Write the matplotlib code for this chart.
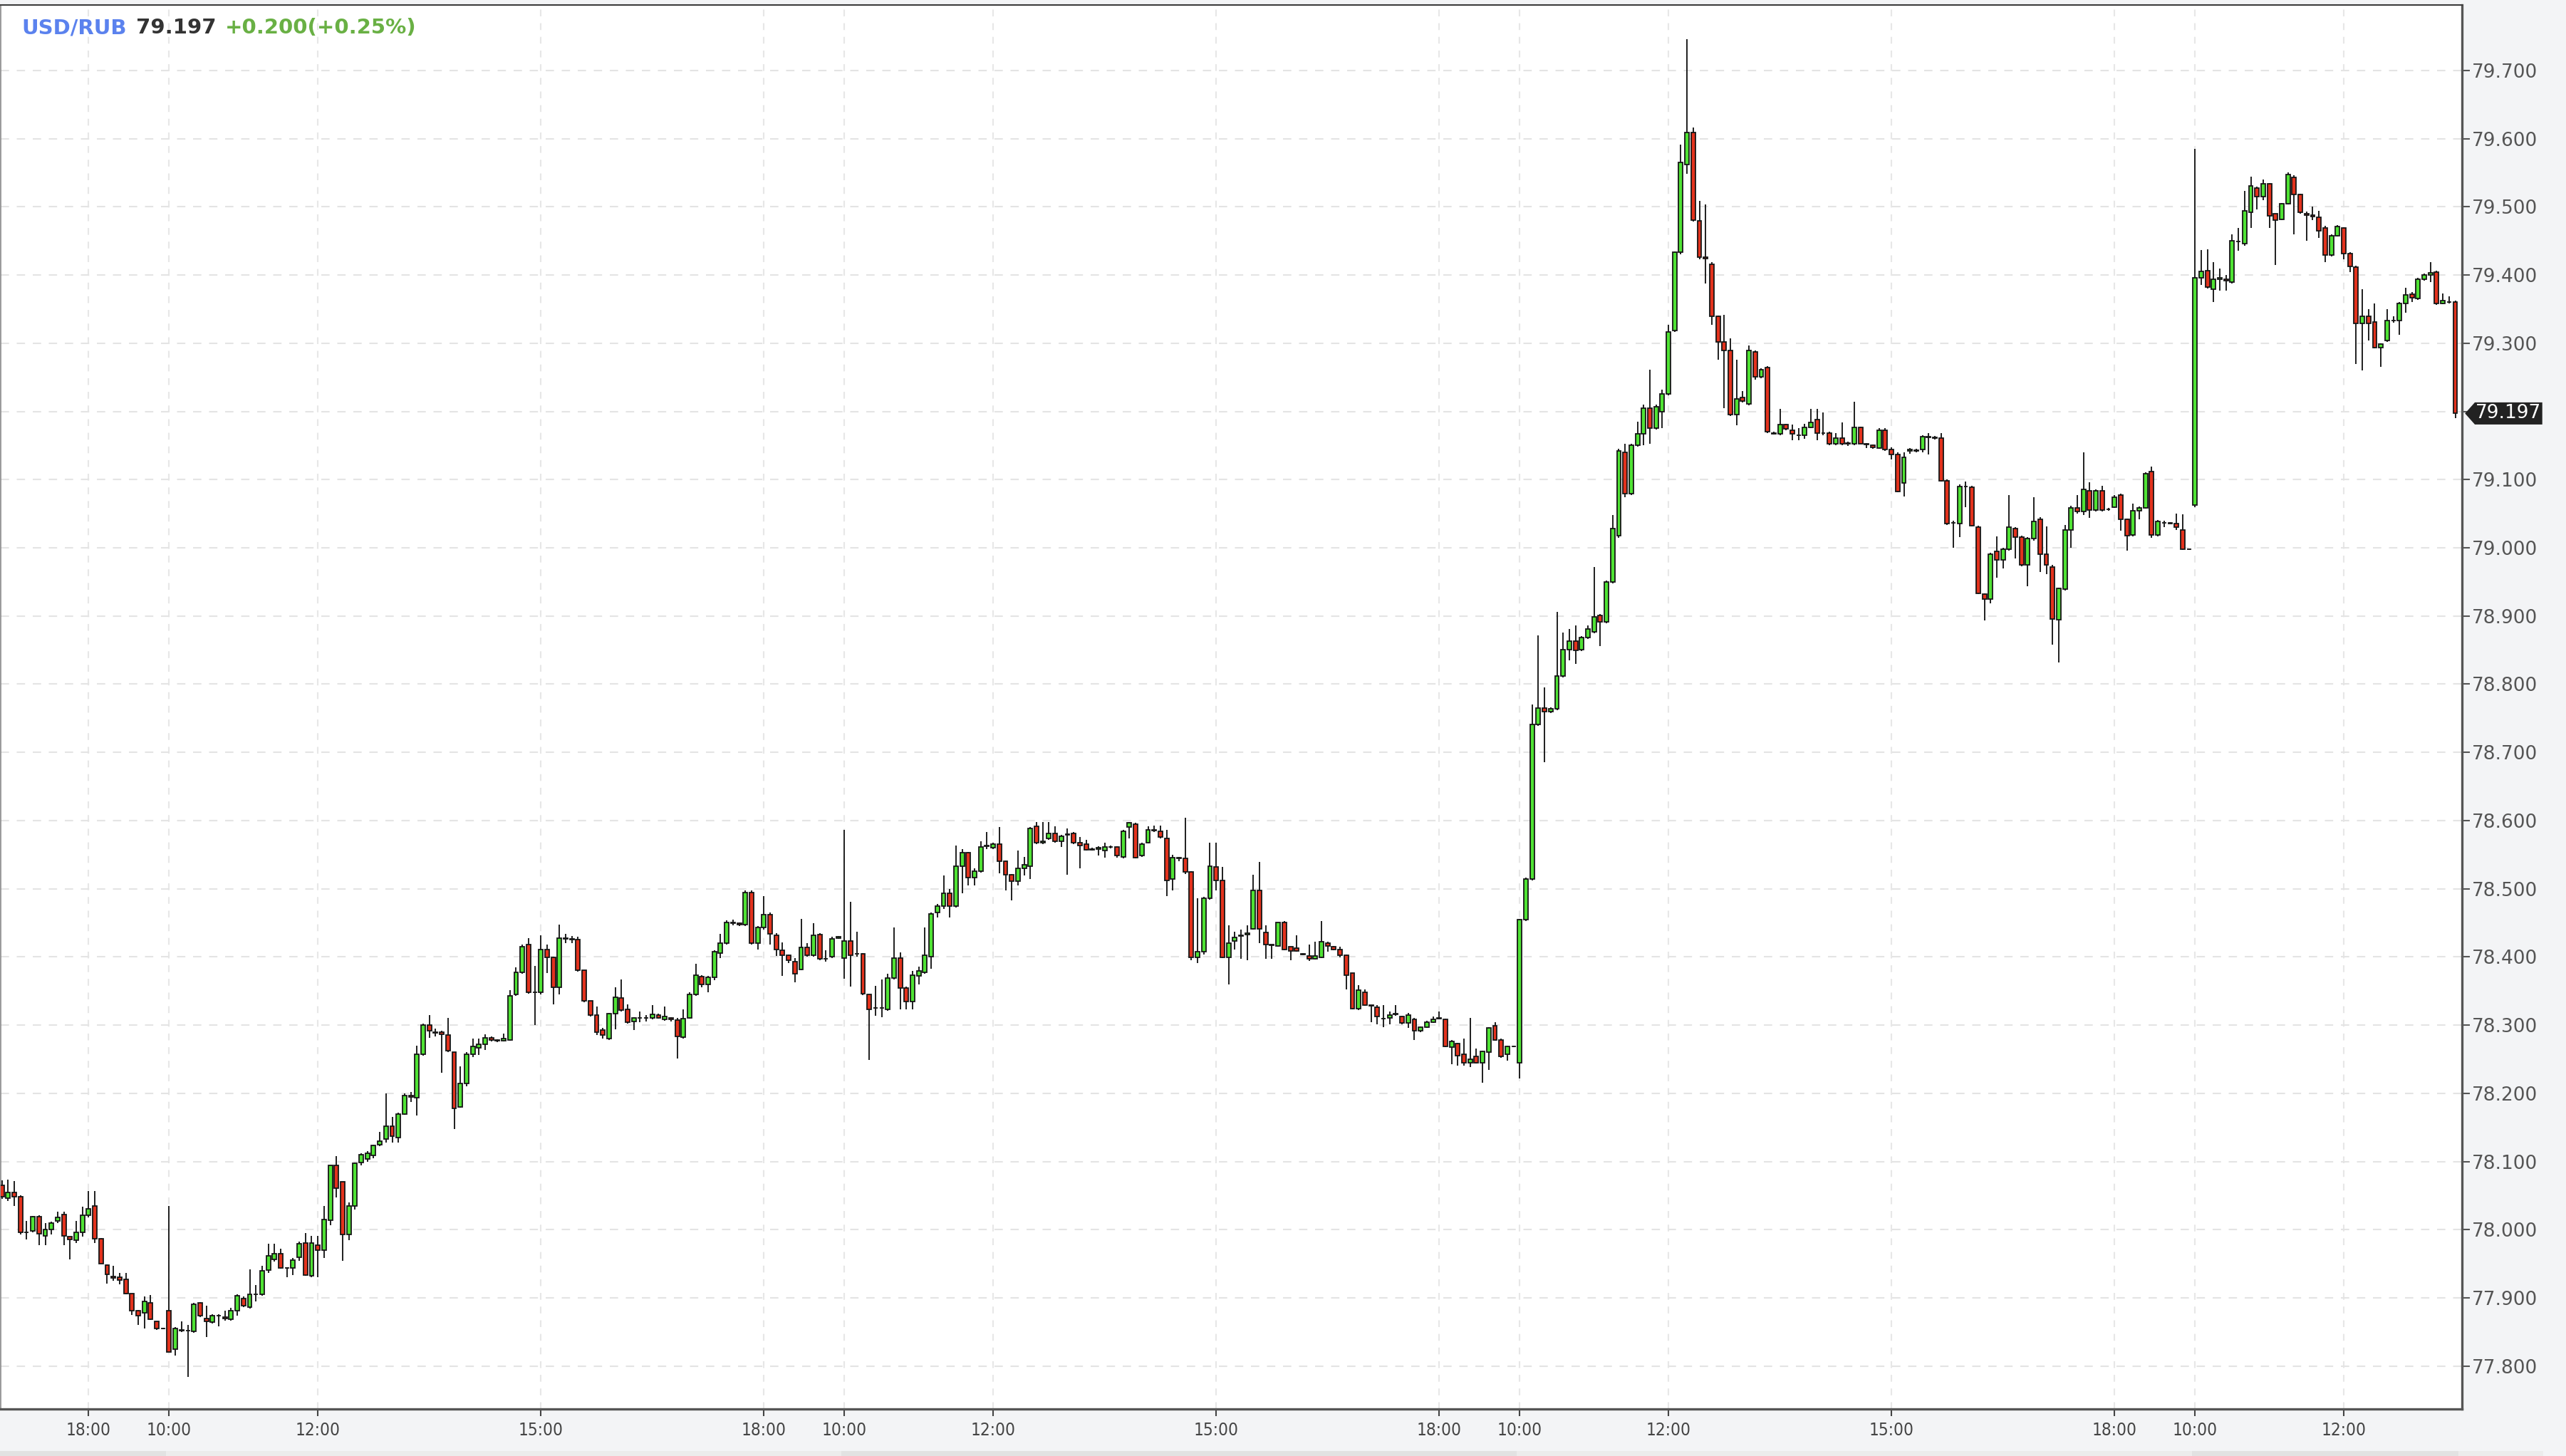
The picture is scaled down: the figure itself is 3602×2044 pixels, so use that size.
import numpy as np
import matplotlib.pyplot as plt
from matplotlib.patches import Polygon, Rectangle
from matplotlib.transforms import blended_transform_factory

# 5-minute USD/RUB candles, rows are (open, high, low, close), one list per session
day1 = [  # 16:50 - 19:00
    (78.065, 78.072, 78.045, 78.048), (78.046, 78.073, 78.042, 78.055), (78.055, 78.071, 78.035, 78.048),
    (78.048, 78.050, 77.993, 77.996), (77.996, 78.013, 77.986, 77.996), (77.998, 78.020, 77.996, 78.019),
    (78.019, 78.021, 77.977, 77.994), (77.991, 78.010, 77.977, 78.000), (78.000, 78.012, 77.993, 78.010),
    (78.013, 78.026, 78.010, 78.018), (78.022, 78.026, 77.977, 77.991), (77.990, 77.990, 77.956, 77.986),
    (77.985, 78.013, 77.980, 77.996), (77.996, 78.034, 77.990, 78.021), (78.021, 78.057, 78.018, 78.031),
    (78.035, 78.057, 77.980, 77.987), (77.987, 77.988, 77.950, 77.950), (77.948, 77.949, 77.921, 77.934),
    (77.931, 77.947, 77.925, 77.929), (77.930, 77.937, 77.920, 77.926), (77.927, 77.937, 77.905, 77.906),
    (77.906, 77.906, 77.875, 77.881), (77.881, 77.882, 77.860, 77.874), (77.878, 77.902, 77.855, 77.895),
    (77.893, 77.904, 77.868, 77.869), (77.866, 77.866, 77.853, 77.855), (77.855, 77.856, 77.854, 77.855),
]

day2 = [  # 10:00 - 19:00
    (77.881, 78.035, 77.821, 77.821), (77.825, 77.857, 77.815, 77.855), (77.853, 77.866, 77.850, 77.852),
    (77.852, 77.860, 77.784, 77.852), (77.851, 77.893, 77.849, 77.891), (77.893, 77.894, 77.872, 77.874),
    (77.870, 77.888, 77.843, 77.866), (77.864, 77.876, 77.862, 77.874), (77.874, 77.876, 77.858, 77.874),
    (77.872, 77.881, 77.867, 77.870), (77.869, 77.885, 77.867, 77.881), (77.881, 77.905, 77.874, 77.903),
    (77.899, 77.902, 77.886, 77.888), (77.886, 77.942, 77.884, 77.905), (77.905, 77.919, 77.895, 77.905),
    (77.905, 77.947, 77.903, 77.940), (77.941, 77.979, 77.937, 77.962), (77.956, 77.979, 77.953, 77.965),
    (77.965, 77.972, 77.943, 77.944), (77.944, 77.945, 77.930, 77.944), (77.944, 77.958, 77.933, 77.955),
    (77.960, 77.982, 77.954, 77.979), (77.980, 77.995, 77.932, 77.933), (77.932, 77.991, 77.930, 77.980),
    (77.977, 77.991, 77.930, 77.970), (77.970, 78.035, 77.958, 78.015), (78.014, 78.094, 78.007, 78.094),
    (78.094, 78.108, 78.047, 78.061), (78.070, 78.070, 77.954, 77.993), (77.993, 78.040, 77.985, 78.035),
    (78.035, 78.098, 78.030, 78.097), (78.098, 78.112, 78.094, 78.110), (78.104, 78.115, 78.100, 78.112),
    (78.109, 78.125, 78.105, 78.123), (78.125, 78.143, 78.122, 78.130), (78.133, 78.200, 78.128, 78.152),
    (78.152, 78.165, 78.128, 78.137), (78.135, 78.172, 78.128, 78.170), (78.170, 78.200, 78.168, 78.197),
    (78.197, 78.202, 78.187, 78.195), (78.193, 78.270, 78.167, 78.257), (78.257, 78.302, 78.255, 78.300),
    (78.300, 78.315, 78.281, 78.292), (78.290, 78.295, 78.283, 78.289), (78.290, 78.292, 78.230, 78.286),
    (78.285, 78.311, 78.260, 78.262), (78.260, 78.260, 78.148, 78.178), (78.180, 78.239, 78.179, 78.214),
    (78.214, 78.260, 78.210, 78.257), (78.257, 78.280, 78.253, 78.269), (78.267, 78.280, 78.256, 78.272),
    (78.272, 78.287, 78.263, 78.281), (78.281, 78.283, 78.276, 78.278), (78.278, 78.279, 78.275, 78.277),
    (78.277, 78.288, 78.276, 78.280), (78.278, 78.351, 78.277, 78.343), (78.345, 78.385, 78.343, 78.377),
    (78.377, 78.418, 78.375, 78.415), (78.418, 78.428, 78.346, 78.348), (78.348, 78.387, 78.300, 78.348),
    (78.348, 78.432, 78.345, 78.411), (78.411, 78.418, 78.376, 78.399), (78.399, 78.400, 78.330, 78.355),
    (78.355, 78.447, 78.345, 78.427), (78.427, 78.434, 78.420, 78.426), (78.426, 78.431, 78.420, 78.425),
    (78.425, 78.430, 78.378, 78.380), (78.380, 78.380, 78.334, 78.336), (78.336, 78.336, 78.313, 78.315),
    (78.315, 78.327, 78.285, 78.290), (78.293, 78.296, 78.280, 78.285), (78.280, 78.318, 78.278, 78.317),
    (78.317, 78.355, 78.294, 78.341), (78.340, 78.367, 78.320, 78.322), (78.323, 78.330, 78.302, 78.304),
    (78.305, 78.312, 78.293, 78.310), (78.310, 78.320, 78.304, 78.310), (78.310, 78.315, 78.305, 78.310),
    (78.310, 78.329, 78.308, 78.316), (78.315, 78.317, 78.309, 78.311), (78.308, 78.327, 78.306, 78.313),
    (78.310, 78.312, 78.305, 78.308), (78.307, 78.310, 78.251, 78.283), (78.282, 78.323, 78.280, 78.309),
    (78.311, 78.348, 78.309, 78.345), (78.345, 78.390, 78.343, 78.373), (78.371, 78.373, 78.355, 78.360),
    (78.360, 78.372, 78.348, 78.370), (78.370, 78.410, 78.366, 78.408), (78.406, 78.434, 78.398, 78.420),
    (78.420, 78.454, 78.418, 78.450), (78.450, 78.455, 78.446, 78.449), (78.449, 78.450, 78.445, 78.447),
    (78.447, 78.497, 78.445, 78.494), (78.494, 78.498, 78.418, 78.420), (78.420, 78.445, 78.411, 78.443),
    (78.443, 78.489, 78.440, 78.462), (78.462, 78.465, 78.418, 78.434), (78.432, 78.435, 78.401, 78.411),
    (78.410, 78.421, 78.372, 78.402), (78.402, 78.403, 78.391, 78.395), (78.393, 78.398, 78.363, 78.375),
    (78.382, 78.456, 78.380, 78.414), (78.414, 78.420, 78.400, 78.402), (78.402, 78.449, 78.400, 78.432),
    (78.433, 78.435, 78.395, 78.397), (78.397, 78.410, 78.393, 78.397), (78.400, 78.430, 78.398, 78.426),
    (78.427, 78.431, 78.426, 78.430),
]

day3 = [  # 10:00 - 19:00
    (78.398, 78.586, 78.368, 78.423), (78.423, 78.481, 78.356, 78.402), (78.405, 78.437, 78.400, 78.405),
    (78.405, 78.406, 78.344, 78.346), (78.345, 78.345, 78.249, 78.323), (78.325, 78.358, 78.314, 78.325),
    (78.325, 78.367, 78.312, 78.325), (78.323, 78.375, 78.321, 78.369), (78.369, 78.443, 78.367, 78.398),
    (78.398, 78.407, 78.323, 78.354), (78.354, 78.356, 78.323, 78.335), (78.335, 78.379, 78.323, 78.373),
    (78.372, 78.386, 78.360, 78.379), (78.377, 78.443, 78.375, 78.402), (78.400, 78.465, 78.383, 78.463),
    (78.465, 78.478, 78.458, 78.475), (78.474, 78.519, 78.470, 78.493), (78.493, 78.500, 78.458, 78.474),
    (78.474, 78.563, 78.472, 78.533), (78.533, 78.558, 78.493, 78.553), (78.553, 78.554, 78.505, 78.516),
    (78.516, 78.530, 78.505, 78.526), (78.526, 78.570, 78.524, 78.561), (78.562, 78.583, 78.558, 78.563),
    (78.560, 78.567, 78.558, 78.565), (78.565, 78.590, 78.523, 78.540), (78.540, 78.541, 78.498, 78.521),
    (78.521, 78.522, 78.483, 78.511), (78.511, 78.556, 78.505, 78.530), (78.530, 78.547, 78.519, 78.535),
    (78.533, 78.590, 78.514, 78.588), (78.591, 78.598, 78.565, 78.567), (78.567, 78.598, 78.565, 78.570),
    (78.574, 78.598, 78.572, 78.581), (78.581, 78.591, 78.568, 78.570), (78.570, 78.579, 78.561, 78.577),
    (78.579, 78.588, 78.521, 78.580), (78.581, 78.583, 78.565, 78.567), (78.567, 78.576, 78.530, 78.563),
    (78.565, 78.572, 78.556, 78.557), (78.557, 78.560, 78.556, 78.558), (78.558, 78.562, 78.549, 78.560),
    (78.556, 78.567, 78.546, 78.561), (78.561, 78.563, 78.559, 78.561), (78.561, 78.562, 78.546, 78.549),
    (78.547, 78.586, 78.545, 78.584), (78.590, 78.598, 78.574, 78.597), (78.595, 78.597, 78.545, 78.546),
    (78.549, 78.567, 78.547, 78.565), (78.568, 78.591, 78.566, 78.586), (78.586, 78.593, 78.583, 78.585),
    (78.584, 78.593, 78.574, 78.576), (78.574, 78.586, 78.489, 78.512), (78.514, 78.550, 78.498, 78.546),
    (78.546, 78.547, 78.540, 78.545), (78.544, 78.604, 78.522, 78.525), (78.525, 78.526, 78.395, 78.399),
    (78.399, 78.486, 78.391, 78.408), (78.408, 78.488, 78.403, 78.486), (78.486, 78.567, 78.484, 78.533),
    (78.532, 78.567, 78.497, 78.512), (78.512, 78.532, 78.398, 78.399), (78.399, 78.446, 78.360, 78.420),
    (78.423, 78.437, 78.411, 78.429), (78.431, 78.440, 78.397, 78.432), (78.433, 78.446, 78.395, 78.435),
    (78.441, 78.520, 78.440, 78.497), (78.497, 78.539, 78.420, 78.441), (78.436, 78.446, 78.397, 78.418),
    (78.418, 78.418, 78.397, 78.417), (78.416, 78.450, 78.415, 78.450), (78.450, 78.453, 78.410, 78.411),
    (78.415, 78.415, 78.395, 78.409), (78.413, 78.432, 78.408, 78.409), (78.405, 78.406, 78.402, 78.404),
    (78.401, 78.418, 78.394, 78.397), (78.397, 78.422, 78.396, 78.401), (78.399, 78.453, 78.398, 78.422),
    (78.420, 78.422, 78.408, 78.416), (78.415, 78.416, 78.410, 78.411), (78.411, 78.415, 78.399, 78.402),
    (78.402, 78.403, 78.352, 78.373), (78.376, 78.376, 78.323, 78.324), (78.324, 78.359, 78.322, 78.351),
    (78.348, 78.352, 78.328, 78.329), (78.329, 78.329, 78.304, 78.328), (78.326, 78.329, 78.301, 78.313),
    (78.309, 78.329, 78.297, 78.309), (78.310, 78.320, 78.301, 78.315), (78.316, 78.329, 78.314, 78.317),
    (78.313, 78.314, 78.301, 78.303), (78.303, 78.318, 78.296, 78.315), (78.308, 78.310, 78.278, 78.292),
    (78.292, 78.298, 78.290, 78.297), (78.297, 78.306, 78.296, 78.304), (78.304, 78.313, 78.303, 78.308),
    (78.310, 78.320, 78.308, 78.309), (78.308, 78.309, 78.268, 78.269), (78.268, 78.278, 78.243, 78.276),
    (78.273, 78.274, 78.241, 78.255), (78.257, 78.280, 78.241, 78.245), (78.245, 78.311, 78.238, 78.250),
    (78.254, 78.266, 78.244, 78.245), (78.245, 78.262, 78.215, 78.261), (78.260, 78.297, 78.234, 78.296),
    (78.299, 78.304, 78.277, 78.278), (78.278, 78.280, 78.252, 78.254), (78.257, 78.270, 78.248, 78.269),
    (78.269, 78.270, 78.268, 78.269),
]

day4 = [  # 10:00 - 19:00
    (78.245, 78.456, 78.222, 78.455), (78.455, 78.516, 78.453, 78.514), (78.514, 78.770, 78.512, 78.741),
    (78.741, 78.871, 78.739, 78.765), (78.765, 78.795, 78.686, 78.760), (78.760, 78.766, 78.758, 78.764),
    (78.764, 78.906, 78.762, 78.812), (78.812, 78.876, 78.810, 78.851), (78.851, 78.881, 78.835, 78.863),
    (78.863, 78.886, 78.830, 78.850), (78.851, 78.870, 78.849, 78.868), (78.868, 78.886, 78.866, 78.881),
    (78.877, 78.972, 78.875, 78.899), (78.901, 78.903, 78.856, 78.891), (78.891, 78.952, 78.889, 78.950),
    (78.950, 79.048, 78.948, 79.028), (79.018, 79.145, 79.015, 79.142), (79.140, 79.153, 79.074, 79.079),
    (79.079, 79.152, 79.077, 79.150), (79.150, 79.185, 79.148, 79.167), (79.167, 79.210, 79.150, 79.205),
    (79.205, 79.261, 79.153, 79.175), (79.176, 79.210, 79.173, 79.207), (79.200, 79.232, 79.175, 79.226),
    (79.226, 79.327, 79.224, 79.317), (79.319, 79.435, 79.317, 79.433), (79.433, 79.591, 79.430, 79.565),
    (79.562, 79.746, 79.548, 79.609), (79.609, 79.616, 79.478, 79.481), (79.479, 79.509, 79.423, 79.426),
    (79.426, 79.504, 79.388, 79.424), (79.416, 79.419, 79.327, 79.339), (79.339, 79.341, 79.276, 79.302),
    (79.302, 79.342, 79.205, 79.289), (79.289, 79.307, 79.193, 79.195), (79.195, 79.276, 79.180, 79.218),
    (79.220, 79.230, 79.213, 79.215), (79.211, 79.297, 79.209, 79.289), (79.287, 79.289, 79.246, 79.251),
    (79.251, 79.263, 79.249, 79.261), (79.264, 79.266, 79.168, 79.170), (79.168, 79.170, 79.166, 79.167),
    (79.167, 79.204, 79.165, 79.181), (79.181, 79.182, 79.172, 79.174), (79.172, 79.181, 79.158, 79.167),
    (79.165, 79.175, 79.158, 79.165), (79.165, 79.182, 79.160, 79.177), (79.177, 79.204, 79.175, 79.184),
    (79.188, 79.204, 79.158, 79.168), (79.168, 79.198, 79.165, 79.168), (79.168, 79.170, 79.150, 79.153),
    (79.153, 79.168, 79.150, 79.161), (79.161, 79.184, 79.150, 79.153), (79.153, 79.156, 79.149, 79.154),
    (79.153, 79.214, 79.150, 79.177), (79.177, 79.178, 79.152, 79.153), (79.153, 79.154, 79.146, 79.151),
    (79.150, 79.151, 79.145, 79.147), (79.146, 79.175, 79.145, 79.172), (79.172, 79.175, 79.142, 79.144),
    (79.144, 79.147, 79.130, 79.137), (79.137, 79.140, 79.081, 79.082), (79.095, 79.140, 79.075, 79.133),
    (79.142, 79.146, 79.138, 79.144), (79.143, 79.145, 79.140, 79.142), (79.144, 79.165, 79.140, 79.163),
    (79.163, 79.168, 79.137, 79.162), (79.162, 79.164, 79.159, 79.161), (79.161, 79.168, 79.097, 79.098),
    (79.098, 79.100, 79.033, 79.035), (79.037, 79.040, 79.000, 79.037), (79.035, 79.093, 79.016, 79.090),
    (79.090, 79.097, 79.060, 79.090), (79.089, 79.091, 79.031, 79.032), (79.030, 79.032, 78.932, 78.933),
    (78.932, 78.933, 78.893, 78.925), (78.925, 78.993, 78.918, 78.991), (78.995, 79.017, 78.956, 78.982),
    (78.982, 79.000, 78.970, 78.998), (78.998, 79.077, 78.996, 79.030), (79.028, 79.030, 78.984, 79.016),
    (79.016, 79.018, 78.973, 78.975), (78.975, 79.016, 78.944, 79.014), (79.014, 79.074, 79.010, 79.039),
    (79.042, 79.045, 78.964, 78.991), (78.991, 79.031, 78.961, 78.975), (78.972, 78.975, 78.858, 78.895),
    (78.894, 78.942, 78.832, 78.940), (78.939, 79.033, 78.937, 79.026), (79.026, 79.062, 79.000, 79.058),
    (79.058, 79.077, 79.050, 79.053), (79.053, 79.140, 79.048, 79.086), (79.084, 79.096, 79.044, 79.055),
    (79.055, 79.086, 79.053, 79.084), (79.084, 79.091, 79.053, 79.055), (79.056, 79.058, 79.054, 79.056),
    (79.060, 79.077, 79.058, 79.074), (79.077, 79.079, 79.025, 79.042), (79.042, 79.043, 78.996, 79.018),
    (79.019, 79.065, 79.017, 79.054), (79.054, 79.061, 79.042, 79.059), (79.059, 79.111, 79.057, 79.109),
    (79.112, 79.119, 79.015, 79.019), (79.019, 79.041, 79.017, 79.039), (79.037, 79.040, 79.030, 79.037),
    (79.037, 79.038, 79.036, 79.036), (79.035, 79.050, 79.026, 79.030), (79.026, 79.049, 78.997, 78.998),
    (78.998, 78.999, 78.997, 78.998),
]

day5 = [  # 10:00 - 13:30
    (79.063, 79.585, 79.060, 79.396), (79.396, 79.437, 79.385, 79.405), (79.406, 79.438, 79.380, 79.382),
    (79.379, 79.419, 79.360, 79.394), (79.394, 79.410, 79.377, 79.396), (79.394, 79.400, 79.377, 79.392),
    (79.390, 79.460, 79.388, 79.450), (79.449, 79.469, 79.436, 79.449), (79.446, 79.523, 79.443, 79.494),
    (79.492, 79.544, 79.469, 79.531), (79.528, 79.530, 79.496, 79.515), (79.515, 79.540, 79.510, 79.534),
    (79.534, 79.535, 79.469, 79.487), (79.490, 79.490, 79.415, 79.480), (79.482, 79.506, 79.480, 79.505),
    (79.505, 79.551, 79.503, 79.547), (79.543, 79.546, 79.460, 79.518), (79.518, 79.519, 79.490, 79.492),
    (79.490, 79.493, 79.450, 79.488), (79.488, 79.500, 79.480, 79.486), (79.485, 79.494, 79.454, 79.465),
    (79.469, 79.472, 79.419, 79.429), (79.429, 79.460, 79.427, 79.458), (79.458, 79.473, 79.456, 79.471),
    (79.469, 79.470, 79.423, 79.431), (79.431, 79.433, 79.404, 79.413), (79.412, 79.414, 79.269, 79.329),
    (79.329, 79.379, 79.260, 79.340), (79.340, 79.350, 79.304, 79.329), (79.331, 79.358, 79.292, 79.294),
    (79.294, 79.300, 79.265, 79.299), (79.304, 79.350, 79.302, 79.333), (79.333, 79.340, 79.330, 79.333),
    (79.333, 79.360, 79.312, 79.358), (79.358, 79.381, 79.345, 79.371), (79.372, 79.375, 79.360, 79.367),
    (79.366, 79.396, 79.364, 79.394), (79.394, 79.402, 79.392, 79.400), (79.400, 79.419, 79.390, 79.403),
    (79.404, 79.406, 79.356, 79.358), (79.358, 79.373, 79.357, 79.362), (79.360, 79.369, 79.358, 79.360),
    (79.360, 79.362, 79.190, 79.197),
]

# candle index of each time label on the bottom axis
time_ticks = [14, 27, 51, 87, 123, 136, 160, 196, 232, 245, 269, 305, 341, 354, 378]
time_labels = ['18:00', '10:00', '12:00', '15:00', '18:00', '10:00', '12:00', '15:00',
               '18:00', '10:00', '12:00', '15:00', '18:00', '10:00', '12:00']
price_ticks = [77.8, 77.9, 78.0, 78.1, 78.2, 78.3, 78.4, 78.5, 78.6, 78.7,
               78.8, 78.9, 79.0, 79.1, 79.2, 79.3, 79.4, 79.5, 79.6, 79.7]
last_price = 79.197
day_starts = [0, 27, 136, 245, 354, 397]

BG = '#f3f4f6'
UP = '#4fe334'
DOWN = '#e3321d'
EDGE = '#161616'

candles = np.array(day1 + day2 + day3 + day4 + day5)
o, h, l, c = candles.T
x = np.arange(len(candles))

W, H = 3602, 2044
fig = plt.figure(figsize=(W / 100, H / 100), dpi=100)
fig.patch.set_facecolor(BG)
ax = fig.add_axes([0.0003, 66 / H, 3455 / W, 1971 / H])
ax.set_facecolor('white')

ax.set_xlim(-0.18, 397.1)
ax.set_ylim(77.737, 79.796)

# grid
ax.set_axisbelow(True)
ax.yaxis.grid(True, color='#e4e4e4', linewidth=1.5, linestyle=(0, (5.6, 5.2)))
ax.xaxis.grid(True, color='#e7e7e7', linewidth=1.5, linestyle=(0, (4.6, 4.6)))

# candles
colors = [UP if cc > oo else (DOWN if cc < oo else EDGE) for oo, cc in zip(o, c)]
ax.vlines(x, l, h, color=EDGE, linewidth=1.35, zorder=2)
ax.bar(x, np.abs(c - o), bottom=np.minimum(o, c), width=0.68, color=colors,
       edgecolor=EDGE, linewidth=1.3, zorder=3)

# axes
ax.yaxis.tick_right()
ax.set_yticks(price_ticks)
ax.set_yticklabels(['' if abs(v - 79.2) < 1e-6 else f'{v:.3f}' for v in price_ticks])
ax.tick_params(axis='y', direction='out', length=8, width=1.5, colors='#555555',
               labelsize=19, pad=2)
ax.set_xticks(time_ticks)
ax.set_xticklabels(time_labels, fontstretch='condensed')
ax.tick_params(axis='x', direction='out', length=7, width=1.5, colors='#444444',
               labelsize=17.5, pad=6)

ax.spines['right'].set_color('#555555')
ax.spines['right'].set_linewidth(2.4)
ax.spines['bottom'].set_color('#555555')
ax.spines['bottom'].set_linewidth(2.4)
ax.spines['top'].set_color('#3c3c3c')
ax.spines['top'].set_linewidth(1.5)
ax.spines['left'].set_color('#8a8a8a')
ax.spines['left'].set_linewidth(1.2)

# last price tag on the right axis
tr = ax.get_yaxis_transform()
hh = 0.0162
tag = Polygon([(1.0012, last_price), (1.0052, last_price + hh), (1.0326, last_price + hh),
               (1.0326, last_price - hh), (1.0052, last_price - hh)],
              closed=True, transform=tr, facecolor='#222222', edgecolor='none',
              clip_on=False, zorder=6)
ax.add_patch(tag)
ax.text(1.0189, last_price, f'{last_price:.3f}', transform=tr, color='white', fontsize=19,
        ha='center', va='center', clip_on=False, zorder=7)

# day shading strip at the very bottom
strip = blended_transform_factory(ax.transData, fig.transFigure)
fig.add_artist(Rectangle((0, 0), 3570 / W, 7 / H, transform=fig.transFigure,
                         facecolor='#ececec', edgecolor='none'))
for k in range(0, len(day_starts) - 1, 2):
    a, b = day_starts[k], day_starts[k + 1]
    fig.add_artist(Rectangle((a - 0.5, 0), b - a, 7 / H, transform=strip,
                             facecolor='#e2e2e2', edgecolor='none'))

# header
ty = 1 - 39 / H
fig.text(30 / W, ty, 'USD/RUB', color='#5b82ee', fontsize=21, fontweight='bold', va='center')
fig.text(191 / W, ty, '79.197', color='#333333', fontsize=21, fontweight='bold', va='center')
fig.text(316 / W, ty, '+0.200(+0.25%)', color='#69b044', fontsize=21, fontweight='bold', va='center')

fig.savefig('out.png', dpi=100, facecolor=fig.get_facecolor())
